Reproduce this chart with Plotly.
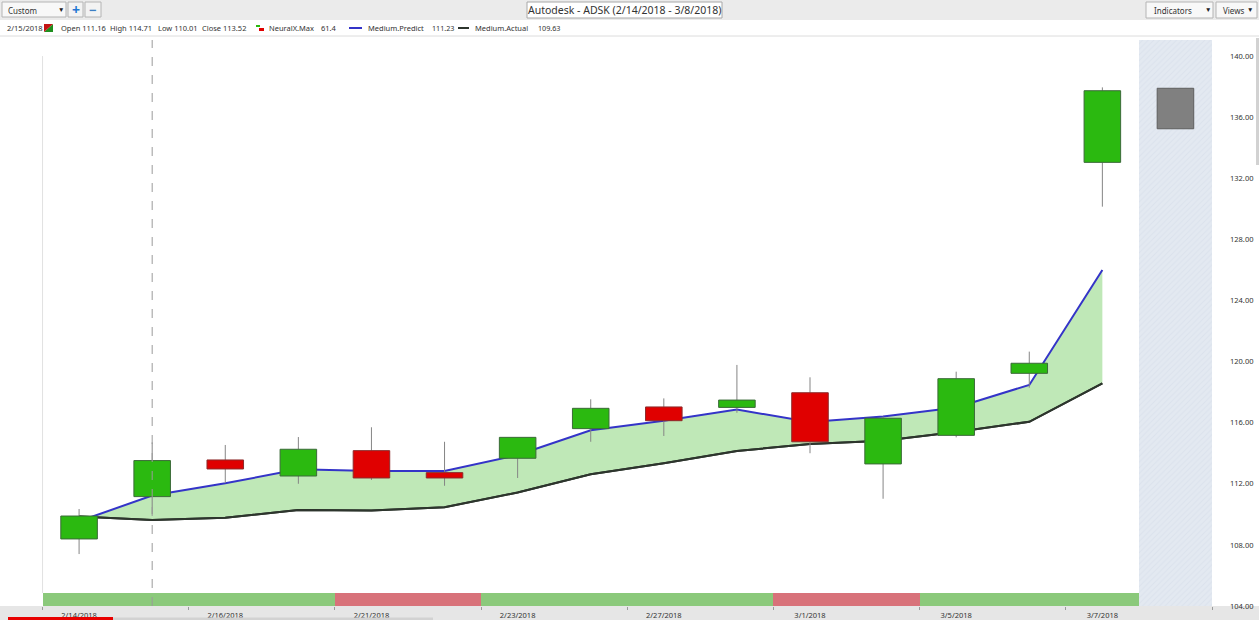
import plotly.graph_objects as go

# ---------------- data ----------------
dates = ['2/14/2018', '2/15/2018', '2/16/2018', '2/20/2018', '2/21/2018', '2/22/2018',
         '2/23/2018', '2/26/2018', '2/27/2018', '2/28/2018', '3/1/2018', '3/2/2018',
         '3/5/2018', '3/6/2018', '3/7/2018']
open_ = [108.39, 111.16, 113.56, 112.51, 114.17, 112.73, 113.67, 115.61, 117.03, 117.00,
         117.96, 113.30, 115.17, 119.23, 133.04]
high = [110.35, 114.71, 114.54, 115.06, 115.70, 114.75, 115.05, 117.53, 117.59, 119.78,
        118.97, 116.40, 119.34, 120.65, 137.95]
low = [107.40, 110.01, 112.05, 112.00, 112.25, 111.87, 112.38, 114.75, 115.13, 116.65,
       114.00, 111.02, 115.04, 118.29, 130.14]
close = [109.89, 113.52, 112.97, 114.26, 112.38, 112.38, 115.04, 116.94, 116.13, 117.48,
         114.75, 116.29, 118.88, 119.89, 137.73]
medium_predict = [109.55, 111.23, 112.03, 112.95, 112.84, 112.84, 113.88, 115.50, 116.12,
                  116.86, 116.04, 116.40, 117.00, 118.47, 125.99]
medium_actual = [109.86, 109.63, 109.78, 110.28, 110.25, 110.46, 111.43, 112.62, 113.34,
                 114.15, 114.60, 114.82, 115.39, 116.06, 118.58]
signal = ['up', 'up', 'up', 'up', 'down', 'down', 'up', 'up', 'up', 'up',
          'down', 'down', 'up', 'up', 'up']
forecast_date = '3/8/2018'
forecast_high = 137.89
forecast_low = 135.24
y_ticks = [104, 108, 112, 116, 120, 124, 128, 132, 136, 140]
x_label_dates = ['2/14/2018', '2/16/2018', '2/21/2018', '2/23/2018', '2/27/2018',
                 '3/1/2018', '3/5/2018', '3/7/2018']

# ---------------- geometry helpers ----------------
W, H = 1259, 620
ML, MR, MT, MB = 0, 47, 40, 14
PW, PH = W - ML - MR, H - MT - MB
Y0, Y1 = 104, 141.05
X0, X1 = -1.082, 15.5


def PX(x):
    return (x - ML) / PW


def PY(y):
    return (H - MB - y) / PH


idx = list(range(len(dates)))
fc_idx = len(dates)
all_labels = dates + [forecast_date]
HALF = 0.25

fig = go.Figure()

# forecast band (background, hatched)
fig.add_trace(go.Bar(
    x=[fc_idx], y=[Y1 - Y0], base=Y0, width=1,
    marker=dict(color='#e3e9f1', line_width=0,
                pattern=dict(shape='/', fgcolor='#d3dbe6', size=4, solidity=0.25)),
    hoverinfo='skip', showlegend=False))

# signal strip
fig.add_trace(go.Bar(
    x=idx, y=[0.85] * len(idx), base=Y0, width=1,
    marker=dict(color=['#8bc97b' if s == 'up' else '#d8727a' for s in signal],
                line_width=0),
    hoverinfo='skip', showlegend=False))

# fill area between actual and predict
fig.add_trace(go.Scatter(x=idx, y=medium_actual, mode='lines',
                         line=dict(color='#2d352d', width=2), showlegend=False,
                         name='Medium.Actual'))
fig.add_trace(go.Scatter(x=idx, y=medium_predict, mode='lines', fill='tonexty',
                         fillcolor='#bfe8b7', line=dict(color='rgba(0,0,0,0)', width=0),
                         showlegend=False, hoverinfo='skip'))
fig.add_trace(go.Scatter(x=idx, y=medium_actual, mode='lines',
                         line=dict(color='#2d352d', width=2), showlegend=False,
                         hoverinfo='skip'))
fig.add_trace(go.Scatter(x=idx, y=medium_predict, mode='lines',
                         line=dict(color='#3434c8', width=2), showlegend=False,
                         name='Medium.Predict'))

# wicks
wx, wy = [], []
for i, o, h, l, c in zip(idx, open_, high, low, close):
    wx += [i, i, None, i, i, None]
    wy += [h, max(o, c), None, min(o, c), l, None]
fig.add_trace(go.Scatter(x=wx, y=wy, mode='lines', line=dict(color='#858585', width=1),
                         showlegend=False, hoverinfo='skip'))


def bodies(sel):
    bx, by = [], []
    for i in sel:
        lo, hi = min(open_[i], close[i]), max(open_[i], close[i])
        bx += [i - HALF, i + HALF, i + HALF, i - HALF, i - HALF, None]
        by += [lo, lo, hi, hi, lo, None]
    return bx, by


gx, gy = bodies([i for i in idx if close[i] >= open_[i]])
rx, ry = bodies([i for i in idx if close[i] < open_[i]])
fig.add_trace(go.Scatter(x=gx, y=gy, mode='lines', fill='toself', fillcolor='#2bb910',
                         line=dict(color='#3b6a38', width=1), showlegend=False))
fig.add_trace(go.Scatter(x=rx, y=ry, mode='lines', fill='toself', fillcolor='#e00000',
                         line=dict(color='#8d2a2a', width=1), showlegend=False))

# forecast box
fig.add_trace(go.Scatter(
    x=[fc_idx - HALF, fc_idx + HALF, fc_idx + HALF, fc_idx - HALF, fc_idx - HALF],
    y=[forecast_low, forecast_low, forecast_high, forecast_high, forecast_low],
    mode='lines', fill='toself', fillcolor='#808080', line=dict(color='#5e5e5e', width=1),
    showlegend=False))

shapes = []
annotations = []
FONT = 'Noto Sans'

# crosshair
shapes.append(dict(type='line', xref='x', yref='paper', x0=1, x1=1, y0=0, y1=1,
                   line=dict(color='#9a9a9a', width=1, dash='dash')))
# left faint boundary line
shapes.append(dict(type='line', xref='x', yref='y', x0=-0.5, x1=-0.5, y0=104.85, y1=140,
                   line=dict(color='#e2e2e2', width=1), layer='below'))

# bottom label band
shapes.append(dict(type='rect', xref='paper', yref='paper', x0=PX(0), x1=PX(W),
                   y0=PY(H), y1=PY(606), fillcolor='#e6e6e6', line_width=0, layer='below'))
# video progress bars
shapes.append(dict(type='rect', xref='paper', yref='paper', x0=PX(113), x1=PX(433),
                   y0=PY(620), y1=PY(617.5), fillcolor='#d2d2d2', line_width=0))
shapes.append(dict(type='rect', xref='paper', yref='paper', x0=PX(8), x1=PX(113),
                   y0=PY(620), y1=PY(617), fillcolor='#e80000', line_width=0))

# toolbar
shapes.append(dict(type='rect', xref='paper', yref='paper', x0=PX(0), x1=PX(W),
                   y0=PY(20), y1=PY(0), fillcolor='#ebebeb', line_width=0))
shapes.append(dict(type='line', xref='paper', yref='paper', x0=PX(0), x1=PX(W),
                   y0=PY(36), y1=PY(36), line=dict(color='#dcdcdc', width=1)))
# right scrollbar hint
shapes.append(dict(type='rect', xref='paper', yref='paper', x0=PX(1256), x1=PX(1259),
                   y0=PY(165), y1=PY(38), fillcolor='#d2d2d2', line_width=0))


def box(x0, x1, y0, y1, fill='#f8f8f8', border='#b4b4b4'):
    shapes.append(dict(type='rect', xref='paper', yref='paper', x0=PX(x0), x1=PX(x1),
                       y0=PY(y1), y1=PY(y0), fillcolor=fill,
                       line=dict(color=border, width=1)))


def text(x, y, s, size=7.5, color='#333333', anchor='left'):
    annotations.append(dict(xref='paper', yref='paper', x=PX(x), y=PY(y), text=s,
                            showarrow=False, xanchor=anchor, yanchor='middle',
                            font=dict(family=FONT, size=size, color=color)))


box(2, 66, 2, 17)
text(6, 10, 'Custom', 8)
text(61, 9.5, '▼', 6.5, '#222', 'center')
box(68, 83, 2, 17, '#f3f3f3')
text(75.5, 9.5, '<b>+</b>', 14, '#2276d2', 'center')
box(85, 101, 2, 17, '#f3f3f3')
text(93, 9.5, '<b>−</b>', 13, '#3d7fc4', 'center')
box(527, 722, 2, 18, '#ffffff', '#a8a8a8')
text(624.5, 10, 'Autodesk - ADSK (2/14/2018 - 3/8/2018)', 10.5, '#333', 'center')
box(1146, 1213, 2, 18)
text(1152, 10, 'Indicators', 8)
text(1208, 9.5, '▼', 6.5, '#222', 'center')
box(1216, 1257, 2, 18)
text(1221, 10, 'Views', 8)
text(1250, 9.5, '▼', 6.5, '#222', 'center')

# info / legend row
LY = 28
text(5, LY, '2/15/2018')
shapes.append(dict(type='path', xref='paper', yref='paper',
                   path=f'M {PX(44)},{PY(32)} L {PX(53)},{PY(24)} L {PX(53)},{PY(32)} Z',
                   fillcolor='#1f8f1f', line_width=0))
shapes.append(dict(type='path', xref='paper', yref='paper',
                   path=f'M {PX(44)},{PY(32)} L {PX(44)},{PY(24)} L {PX(53)},{PY(24)} Z',
                   fillcolor='#c41414', line_width=0))
text(59, LY, f'Open {open_[1]:.2f}')
text(108, LY, f'High {high[1]:.2f}')
text(156, LY, f'Low {low[1]:.2f}')
text(200, LY, f'Close {close[1]:.2f}')
shapes.append(dict(type='rect', xref='paper', yref='paper', x0=PX(256), x1=PX(260),
                   y0=PY(27), y1=PY(25), fillcolor='#2bb910', line_width=0))
shapes.append(dict(type='rect', xref='paper', yref='paper', x0=PX(259), x1=PX(264),
                   y0=PY(31), y1=PY(28), fillcolor='#e00000', line_width=0))
text(267, LY, 'NeuralX.Max')
text(319, LY, '61.4')
shapes.append(dict(type='line', xref='paper', yref='paper', x0=PX(349), x1=PX(362),
                   y0=PY(LY), y1=PY(LY), line=dict(color='#3434c8', width=2)))
text(366, LY, 'Medium.Predict')
text(430, LY, f'{medium_predict[1]:.2f}', 7.2)
shapes.append(dict(type='line', xref='paper', yref='paper', x0=PX(458), x1=PX(469),
                   y0=PY(LY), y1=PY(LY), line=dict(color='#2d352d', width=2)))
text(473, LY, 'Medium.Actual')
text(536, LY, f'{medium_actual[1]:.2f}', 7.2)

fig.update_layout(
    width=W, height=H,
    margin=dict(l=ML, r=MR, t=MT, b=MB, pad=0),
    paper_bgcolor='#ffffff', plot_bgcolor='#ffffff',
    barmode='overlay', bargap=0,
    showlegend=False,
    shapes=shapes, annotations=annotations,
    font=dict(family=FONT, size=8, color='#333333'),
    xaxis=dict(range=[X0, X1], showgrid=False, zeroline=False, showline=False,
               tickmode='array',
               tickvals=[all_labels.index(d) for d in x_label_dates],
               ticktext=x_label_dates, ticks='', ticklabelstandoff=3,
               tickfont=dict(family=FONT, size=7.5, color='#333'),
               minor=dict(tickmode='array',
                          tickvals=[v - 0.5 for v in range(0, fc_idx + 2, 2)],
                          ticks='outside', ticklen=3, tickcolor='#9a9a9a', tickwidth=1)),
    yaxis=dict(range=[Y0, Y1], side='right', showgrid=False, zeroline=False,
               showline=False, tickmode='array', tickvals=y_ticks,
               ticktext=[f'{v:.2f}' for v in y_ticks], ticks='',
               ticklabelstandoff=17,
               tickfont=dict(family=FONT, size=7.5, color='#333')),
)

fig.write_html('out.html', config={'displayModeBar': False},
               post_script="document.body.style.margin='0';document.body.style.overflow='hidden';")
